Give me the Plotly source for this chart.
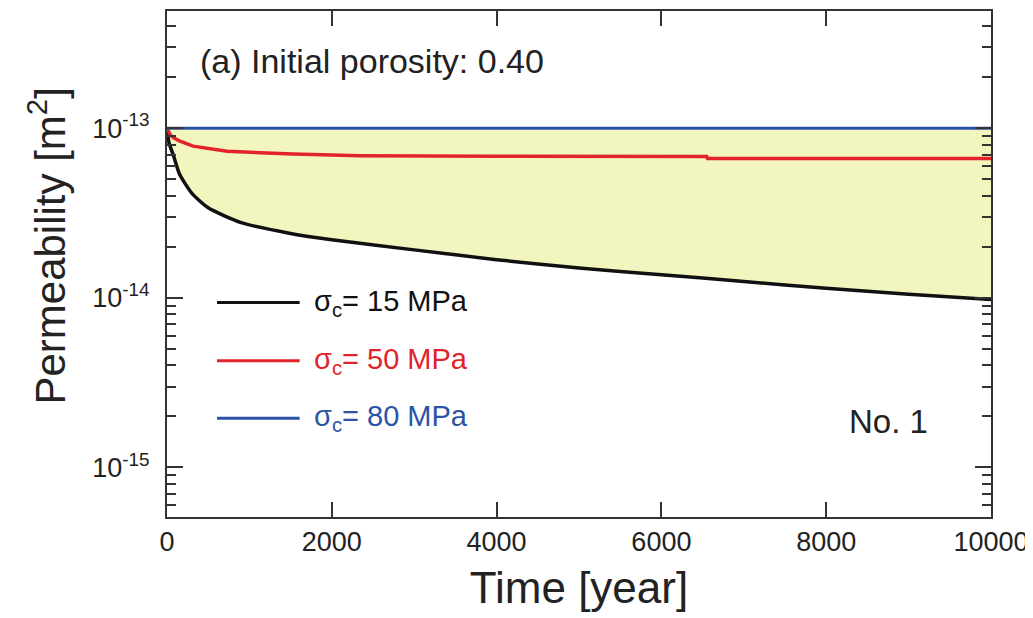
import plotly.graph_objects as go

# Data
t_black = [0, 25, 75, 150, 300, 500, 900, 1500, 2000, 3000, 4000, 5000, 6000, 7000, 8000, 9000, 10000]
k_black = [1.0e-13, 8.2e-14, 7.0e-14, 5.4e-14, 4.15e-14, 3.4e-14, 2.78e-14, 2.4e-14, 2.2e-14,
           1.92e-14, 1.68e-14, 1.5e-14, 1.37e-14, 1.25e-14, 1.14e-14, 1.05e-14, 9.8e-15]

t_red = [0, 36, 80, 158, 316, 728, 1529, 2342, 4000, 5255, 6550, 6560, 10000]
k_red = [1.0e-13, 9.2e-14, 8.8e-14, 8.4e-14, 7.85e-14, 7.32e-14, 7.06e-14, 6.9e-14,
         6.84e-14, 6.82e-14, 6.82e-14, 6.64e-14, 6.64e-14]

t_blue = [0, 10000]
k_blue = [1.0e-13, 1.0e-13]

labels = ["σ<sub>c</sub>= 15 MPa", "σ<sub>c</sub>= 50 MPa", "σ<sub>c</sub>= 80 MPa"]
colors = ["#111111", "#e2232a", "#2b54a6"]

y_major_vals = [1e-15, 1e-14, 1e-13]
y_major_text = ["10<sup>-15</sup>", "10<sup>-14</sup>", "10<sup>-13</sup>"]
y_minor_vals = [m * 10.0 ** e for e in (-16, -15, -14, -13) for m in range(2, 10)]
x_tick_vals = [0, 2000, 4000, 6000, 8000, 10000]
x_tick_text = ["0", "2000", "4000", "6000", "8000", "10000"]

FONT = "Liberation Sans, Arial, sans-serif"
fill_color = "#f2f5be"

fig = go.Figure()
# fill between blue (upper) and black (lower)
fig.add_trace(go.Scatter(x=t_blue, y=k_blue, mode="lines", line=dict(width=0, color=fill_color),
                         showlegend=False, hoverinfo="skip"))
fig.add_trace(go.Scatter(x=t_black, y=k_black, mode="lines",
                         line=dict(width=0, color=fill_color, shape="spline", smoothing=0.6),
                         fill="tonexty", fillcolor=fill_color, showlegend=False, hoverinfo="skip"))
# lines
fig.add_trace(go.Scatter(x=t_black, y=k_black, mode="lines",
                         line=dict(color=colors[0], width=3.5, shape="spline", smoothing=0.6), showlegend=False))
fig.add_trace(go.Scatter(x=t_red, y=k_red, mode="lines",
                         line=dict(color=colors[1], width=3.5), showlegend=False))
fig.add_trace(go.Scatter(x=t_blue, y=k_blue, mode="lines",
                         line=dict(color=colors[2], width=3), showlegend=False))

# legend drawn manually
leg_y = [0.4237, 0.3088, 0.1951]
for lab, c, yy in zip(labels, colors, leg_y):
    fig.add_shape(type="line", xref="paper", yref="paper", x0=0.0607, x1=0.161, y0=yy, y1=yy,
                  line=dict(color=c, width=3))
    fig.add_annotation(xref="paper", yref="paper", x=0.1765, y=yy, xanchor="left", yanchor="middle",
                       text=lab, showarrow=False, font=dict(family=FONT, size=29, color=c))

fig.add_annotation(xref="paper", yref="paper", x=0.038, y=0.902, xanchor="left", yanchor="middle",
                   text="(a) Initial porosity: 0.40", showarrow=False,
                   font=dict(family=FONT, size=34, color="#222"))
fig.add_annotation(xref="paper", yref="paper", x=0.926, y=0.189, xanchor="right", yanchor="middle",
                   text="No. 1", showarrow=False, font=dict(family=FONT, size=33, color="#222"))

# y-axis title
fig.add_annotation(xref="paper", yref="paper", x=-0.1456, y=0.5345, xanchor="center", yanchor="middle",
                   text="Permeability [m<sup>2</sup>]", textangle=-90, showarrow=False,
                   font=dict(family=FONT, size=42, color="#222"))

axis_common = dict(showline=True, linecolor="#333", linewidth=2, mirror="allticks",
                   ticks="inside", tickcolor="#333", tickwidth=2, showgrid=False, zeroline=False)

fig.update_xaxes(range=[0, 10000], tickvals=x_tick_vals, ticktext=x_tick_text, ticklen=15,
                 tickfont=dict(family=FONT, size=27, color="#222"), ticklabelstandoff=0,
                 title=dict(text="Time [year]", font=dict(family=FONT, size=44, color="#222"), standoff=16),
                 **axis_common)
fig.update_yaxes(type="log", range=[-15.292, -12.308], tickvals=y_major_vals, ticktext=y_major_text,
                 ticklen=16, tickfont=dict(family=FONT, size=27, color="#222"), ticklabelstandoff=10,
                 minor=dict(tickvals=y_minor_vals, ticks="inside", ticklen=9, tickwidth=2, tickcolor="#333"),
                 **axis_common)

# page body adds an 8px offset; compensate so the plot box lands at (167,9)-(991,517)
fig.update_layout(width=1033, height=618, margin=dict(l=159, r=50, t=1, b=109),
                  plot_bgcolor="white", paper_bgcolor="white")

fig.write_html("out.html")
